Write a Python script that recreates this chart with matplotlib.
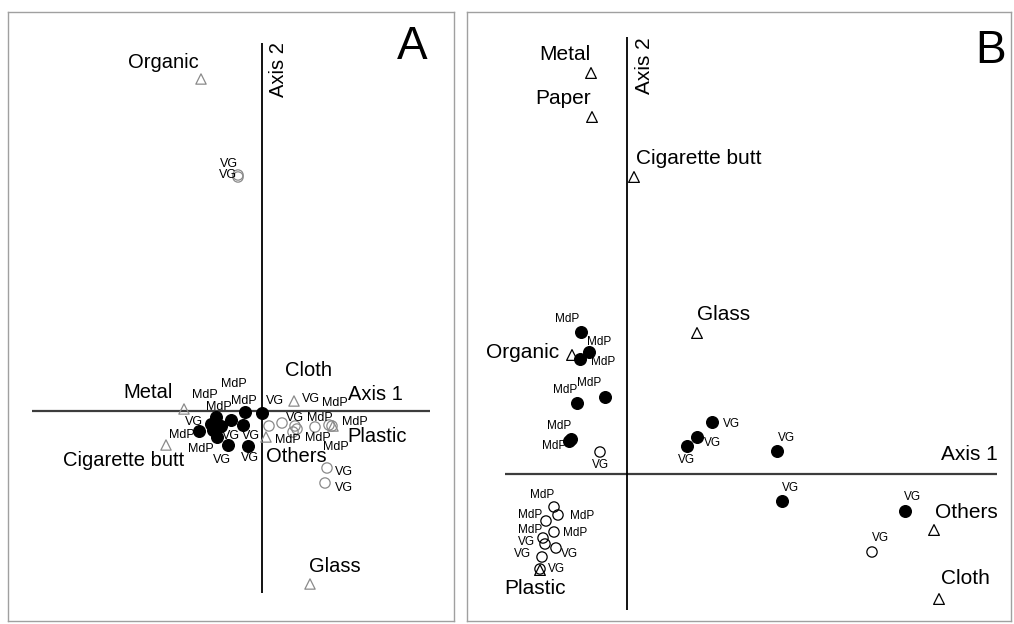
import matplotlib
matplotlib.use("Agg")
from matplotlib import pyplot as plt

plt.rcParams['font.family'] = ['Liberation Sans', 'DejaVu Sans']

# ---- panel A : scores ----
a_species = ['Organic', 'Metal', 'Cigarette butt', 'Cloth', 'Plastic', 'Others', 'Glass']
a_species_x = [-0.61, -0.78, -0.96, 0.32, 0.71, 0.04, 0.48]
a_species_y = [3.32, 0.02, -0.34, 0.10, -0.15, -0.26, -1.73]

# filled = samples of one season, open = the other
a_fill_x = [-0.17, 0.00, -0.46, -0.31, -0.51, -0.41, -0.19, -0.49, -0.63, -0.45, -0.34, -0.14]
a_fill_y = [-0.01, -0.02, -0.06, -0.09, -0.13, -0.15, -0.14, -0.19, -0.20, -0.26, -0.34, -0.35]
a_fill_site = ['MdP', 'VG', 'MdP', 'MdP', 'MdP', 'VG', 'VG', 'VG', 'MdP', 'MdP', 'VG', 'VG']

a_open_x = [0.07, 0.20, 0.33, 0.31, 0.35, 0.53, 0.67, 0.70, 0.65, 0.63, -0.24, -0.24]
a_open_y = [-0.15, -0.12, -0.15, -0.21, -0.18, -0.16, -0.14, -0.15, -0.57, -0.72, 2.36, 2.34]
a_open_site = ['MdP', 'VG', 'VG', 'MdP', 'MdP', 'MdP', 'MdP', 'MdP', 'VG', 'VG', 'VG', 'VG']

# ---- panel B ----
b_species = ['Metal', 'Paper', 'Cigarette butt', 'Glass', 'Organic', 'Others', 'Cloth', 'Plastic']
b_species_x = [-0.36, -0.35, 0.07, 0.70, -0.55, 3.07, 3.12, -0.87]
b_species_y = [4.01, 3.57, 2.97, 1.41, 1.19, -0.56, -1.25, -0.96]

b_fill_x = [-0.46, -0.38, -0.47, -0.22, -0.50, -0.56, -0.58, 0.85, 0.70, 0.60, 1.50, 1.55, 2.78]
b_fill_y = [1.42, 1.22, 1.15, 0.77, 0.71, 0.35, 0.33, 0.52, 0.37, 0.28, 0.23, -0.27, -0.37]
b_fill_site = ['MdP'] * 7 + ['VG'] * 6

b_open_x = [-0.27, 2.45, -0.73, -0.69, -0.81, -0.73, -0.84, -0.82, -0.71, -0.85, -0.87]
b_open_y = [0.22, -0.78, -0.33, -0.41, -0.47, -0.58, -0.64, -0.70, -0.74, -0.83, -0.95]
b_open_site = ['VG', 'VG', 'MdP', 'MdP', 'MdP', 'MdP', 'MdP', 'VG', 'VG', 'VG', 'VG']

# label placement (pixel offsets from the marker, up = positive)
a_species_off = [(-38, 17), (-36, 17), (-42, -15), (15, 30), (44, -11), (30, -20), (25, 18)]
a_fill_off = [(-1, 11), (13, 12), (3, 10), (3, 36), (-6, 29), (10, -10), (8, -11),
              (-19, 8), (-17, -4), (-16, -12), (-6, -15), (2, -12)]
a_open_off = [(19, -14), (29, 24), (0, 8), (25, -6), (23, 11), (20, 24), (26, 3),
              (4, -21), (17, -4), (19, -5), (-9, 11), (-10, 2)]
b_species_off = [(-26, 18), (-29, 18), (65, 18), (27, 18), (-49, 3), (32, 18), (26, 20), (-5, -18)]
b_fill_off = [(-14, 13), (10, 10), (23, -3), (-16, 14), (-12, 13), (-12, 13), (-15, -5),
              (20, -2), (16, -6), (0, -14), (10, 13), (9, 13), (8, 14)]
b_open_off = [(1, -13), (9, 14), (-12, 12), (24, -1), (-16, 6), (21, -1), (-13, 8),
              (-18, 2), (14, -6), (-19, 3), (17, 0)]

W, H = 1014, 624
fig = plt.figure(figsize=(W / 100, H / 100), dpi=100)


def panel(px_box, xlim, ylim, axis1, axis2):
    l, r, t, b = px_box
    ax = fig.add_axes([l / W, 1 - b / H, (r - l) / W, (b - t) / H])
    ax.set_xlim(*xlim)
    ax.set_ylim(*ylim)
    ax.set_xticks([])
    ax.set_yticks([])
    for s in ax.spines.values():
        s.set_color('#a0a0a0')
        s.set_linewidth(1)
    ax.hlines(0, axis1[0], axis1[1], color='#3c3c3c', lw=1.6, zorder=1)
    ax.vlines(0, axis2[0], axis2[1], color='black', lw=1.3, zorder=1)
    return ax


def labels(ax, xs, ys, names, offs, size):
    for x, y, n, o in zip(xs, ys, names, offs):
        ax.annotate(n, (x, y), xytext=o, textcoords='offset pixels',
                    ha='center', va='center', fontsize=size, zorder=5)


# panel A
axA = panel((8, 454, 12, 621), (-2.54, 1.92), (-2.10, 3.99), (-2.30, 1.68), (-1.82, 3.68))
grey = '#8a8a8a'
axA.scatter(a_species_x, a_species_y, marker='^', s=55, facecolor='none', edgecolor=grey, lw=0.9, zorder=3)
axA.scatter(a_open_x, a_open_y, marker='o', s=55, facecolor='none', edgecolor=grey, lw=0.9, zorder=3)
axA.scatter(a_fill_x, a_fill_y, marker='o', s=70, color='black', zorder=4)
labels(axA, a_species_x, a_species_y, a_species, a_species_off, 14.5)
labels(axA, a_fill_x, a_fill_y, a_fill_site, a_fill_off, 9)
labels(axA, a_open_x, a_open_y, a_open_site, a_open_off, 9)
axA.text(1.13, 0.17, 'Axis 1', ha='center', va='center', fontsize=14.5)
axA.text(0.16, 3.41, 'Axis 2', ha='center', va='center', fontsize=14.5, rotation=90)
axA.text(0.907, 0.942, 'A', transform=axA.transAxes, ha='center', va='center', fontsize=33)

# panel B
axB = panel((467, 1011, 12, 621), (-1.60, 3.84), (-1.47, 4.62), (-1.22, 3.70), (-1.36, 4.37))
axB.scatter(b_species_x, b_species_y, marker='^', s=60, facecolor='none', edgecolor='black', lw=0.9, zorder=3)
axB.scatter(b_open_x, b_open_y, marker='o', s=55, facecolor='none', edgecolor='black', lw=0.9, zorder=3)
axB.scatter(b_fill_x, b_fill_y, marker='o', s=70, color='black', zorder=4)
labels(axB, b_species_x, b_species_y, b_species, b_species_off, 15)
labels(axB, b_fill_x, b_fill_y, b_fill_site, b_fill_off, 8.5)
labels(axB, b_open_x, b_open_y, b_open_site, b_open_off, 8.5)
axB.text(3.42, 0.20, 'Axis 1', ha='center', va='center', fontsize=15)
axB.text(0.18, 4.08, 'Axis 2', ha='center', va='center', fontsize=15, rotation=90)
axB.text(0.963, 0.936, 'B', transform=axB.transAxes, ha='center', va='center', fontsize=33)

plt.savefig('out.png', dpi=100)
